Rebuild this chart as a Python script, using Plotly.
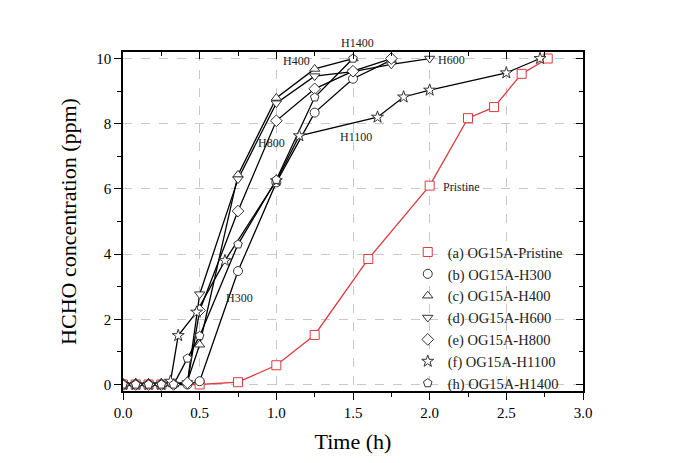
import plotly.graph_objects as go

# ---- data ----
t_pristine = [0, 0.083, 0.167, 0.25, 0.5, 0.75, 1.0, 1.25, 1.6, 2.0, 2.25, 2.42, 2.6, 2.77]
c_pristine = [0, 0, 0, 0, 0.0, 0.07, 0.59, 1.52, 3.85, 6.1, 8.17, 8.51, 9.53, 10.0]

t_h300 = [0, 0.083, 0.167, 0.25, 0.33, 0.42, 0.5, 0.75, 1.0, 1.25, 1.5, 1.75]
c_h300 = [0, 0, 0, 0, 0, 0, 0.1, 3.48, 6.2, 8.34, 9.38, 9.95]

t_h400 = [0, 0.083, 0.167, 0.25, 0.33, 0.42, 0.5, 0.75, 1.0, 1.25, 1.5]
c_h400 = [0, 0, 0, 0, 0, 0.1, 1.22, 6.43, 8.79, 9.68, 10.0]

t_h600 = [0, 0.083, 0.167, 0.25, 0.33, 0.42, 0.5, 0.75, 1.0, 1.25, 1.5, 1.75, 2.0]
c_h600 = [0, 0, 0, 0, 0, 0.05, 2.77, 6.3, 8.63, 9.46, 9.6, 9.82, 10.0]

t_h800 = [0, 0.083, 0.167, 0.25, 0.33, 0.42, 0.5, 0.75, 1.0, 1.25, 1.5, 1.75]
c_h800 = [0, 0, 0, 0, 0, 0.05, 2.27, 5.32, 8.09, 9.07, 9.61, 10.0]

t_h1100 = [0, 0.083, 0.167, 0.25, 0.31, 0.36, 0.48, 0.665, 1.0, 1.15, 1.66, 1.83, 2.0, 2.5, 2.72]
c_h1100 = [0, 0, 0, 0, 0.1, 1.5, 2.22, 3.8, 6.25, 7.63, 8.2, 8.82, 9.03, 9.56, 10.0]

t_h1400 = [0, 0.083, 0.167, 0.25, 0.33, 0.42, 0.5, 0.75, 1.0, 1.25, 1.5]
c_h1400 = [0, 0, 0, 0, 0, 0.8, 1.49, 4.3, 6.28, 8.81, 10.0]

series_names = ["(a) OG15A-Pristine", "(b) OG15A-H300", "(c) OG15A-H400",
                "(d) OG15A-H600", "(e) OG15A-H800", "(f) OG15A-H1100",
                "(h) OG15A-H1400"]

labels_text = ["H400", "H600", "H800", "H1100", "Pristine", "H300"]
labels_x = [1.13, 2.14, 0.97, 1.52, 2.21, 0.76]
labels_y = [9.93, 9.95, 7.4, 7.6, 6.07, 2.64]
top_label = "H1400"
top_label_x = 1.53

x_ticks = [0.0, 0.5, 1.0, 1.5, 2.0, 2.5, 3.0]
y_ticks = [0, 2, 4, 6, 8, 10]

FONT = "Liberation Serif"
RED = "#e0393e"

fig = go.Figure()

styles = [
    (t_pristine, c_pristine, "square", RED),
    (t_h300, c_h300, "circle", "black"),
    (t_h400, c_h400, "triangle-up", "black"),
    (t_h600, c_h600, "triangle-down", "black"),
    (t_h800, c_h800, "diamond", "black"),
    (t_h1100, c_h1100, "star", "black"),
    (t_h1400, c_h1400, "pentagon", "black"),
]

# lines first (no legend)
for (tx, cy, sym, col), name in zip(styles, series_names):
    fig.add_trace(go.Scatter(
        x=tx, y=cy, mode="lines", showlegend=False, hoverinfo="skip",
        line=dict(color=col, width=1.3),
    ))

# markers on top (legend entries)
for (tx, cy, sym, col), name in zip(styles, series_names):
    fig.add_trace(go.Scatter(
        x=tx, y=cy, mode="markers", name=name,
        marker=dict(symbol=sym, size=9, color="white",
                    line=dict(color=col if col == RED else "#333333", width=1)),
    ))

# dummy trace for mirrored (inside-tick) axes
fig.add_trace(go.Scatter(x=[None], y=[None], xaxis="x2", yaxis="y2",
                         showlegend=False, hoverinfo="skip"))

for txt, lx, ly in zip(labels_text, labels_x, labels_y):
    fig.add_annotation(x=lx, y=ly, text=txt, showarrow=False,
                       font=dict(family=FONT, size=12, color="#222222"))
fig.add_annotation(x=top_label_x, xref="x", y=1.0, yref="paper",
                   yanchor="bottom", yshift=0,
                   text=top_label, showarrow=False,
                   font=dict(family=FONT, size=12, color="#222222"))

grid = dict(showgrid=True, gridcolor="#c8c8c8", griddash="dash", gridwidth=1)

fig.update_layout(
    width=678, height=463,
    margin=dict(l=123, r=95, t=52, b=72),
    plot_bgcolor="white", paper_bgcolor="white",
    font=dict(family=FONT, color="black"),
    xaxis=dict(range=[0, 3.0], tickvals=x_ticks,
               ticktext=[f"{v:.1f}" for v in x_ticks],
               ticks="outside", ticklen=7, tickwidth=1.2, tickcolor="black",
               minor=dict(dtick=0.25, tick0=0, ticks="outside", ticklen=4,
                          tickcolor="black", showgrid=False),
               showline=True, linecolor="black", linewidth=1.5,
               zeroline=False, tickfont=dict(size=15, family=FONT),
               title=dict(text="Time (h)", font=dict(size=22, family=FONT), standoff=14),
               **grid),
    yaxis=dict(range=[-0.2, 10.2], tickvals=y_ticks,
               ticktext=[str(v) for v in y_ticks],
               ticks="outside", ticklen=7, tickwidth=1.2, tickcolor="black",
               minor=dict(dtick=1, tick0=0, ticks="outside", ticklen=4,
                          tickcolor="black", showgrid=False),
               showline=True, linecolor="black", linewidth=1.5,
               zeroline=False, tickfont=dict(size=15, family=FONT),
               title=dict(text="HCHO concentration (ppm)",
                          font=dict(size=22, family=FONT), standoff=14),
               **grid),
    xaxis2=dict(range=[0, 3.0], overlaying="x", side="top", anchor="y",
                tickvals=x_ticks, showticklabels=False,
                ticks="inside", ticklen=7, tickwidth=1.2, tickcolor="black",
                minor=dict(dtick=0.25, tick0=0, ticks="inside", ticklen=4,
                           tickcolor="black"),
                showline=True, linecolor="black", linewidth=1.5,
                showgrid=False, zeroline=False),
    yaxis2=dict(range=[-0.2, 10.2], overlaying="y", side="right", anchor="x",
                tickvals=y_ticks, showticklabels=False,
                ticks="inside", ticklen=7, tickwidth=1.2, tickcolor="black",
                minor=dict(dtick=1, tick0=0, ticks="inside", ticklen=4,
                           tickcolor="black"),
                showline=True, linecolor="black", linewidth=1.5,
                showgrid=False, zeroline=False),
    legend=dict(x=0.619, y=0.457, xanchor="left", yanchor="top",
                bgcolor="rgba(0,0,0,0)", borderwidth=0,
                font=dict(family=FONT, size=14.5, color="#222222"),
                tracegroupgap=0),
    showlegend=True,
)

fig.write_html("out.html")
